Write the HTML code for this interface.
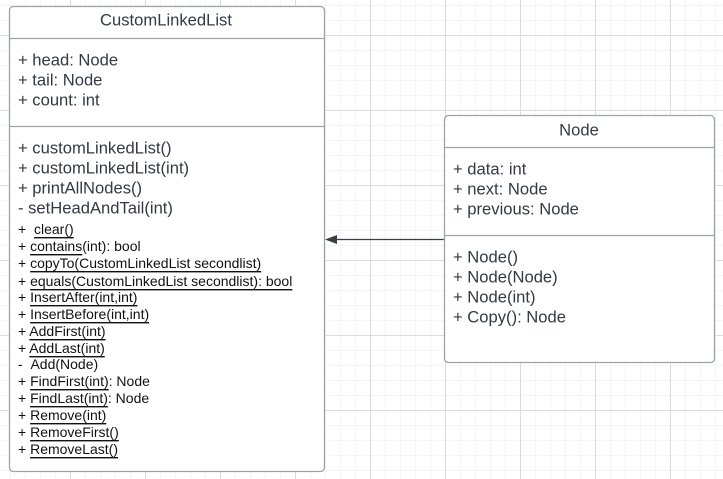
<!DOCTYPE html>
<html><head><meta charset="utf-8"><style>
html,body{margin:0;padding:0;background:#fff}
svg{display:block}
text{font-family:"Liberation Sans",Arial,sans-serif;fill:#333a44;dominant-baseline:central}
.b{font-size:16.6px}
.s{font-size:14px;fill:#111}
.u{text-decoration:underline}
</style></head><body>
<svg width="723" height="479" viewBox="0 0 723 479" xmlns="http://www.w3.org/2000/svg">
<defs>
<pattern id="g" width="15" height="15" patternUnits="userSpaceOnUse" x="10" y="5">
<path d="M0 0H15M0 0V15" stroke="#ebebeb" stroke-width="1" fill="none"/>
</pattern>
<pattern id="G" width="75" height="75" patternUnits="userSpaceOnUse" x="70" y="35">
<path d="M0 0.5H75M0.5 0V75" stroke="#dcdcdc" stroke-width="1" fill="none"/>
</pattern>
</defs>
<rect width="723" height="479" fill="url(#g)"/>
<rect width="723" height="479" fill="url(#G)"/>

<rect x="9.5" y="6.5" width="315" height="465" rx="4" fill="#fff" stroke="#9fa3a9" stroke-width="1.3"/>
<line x1="9.5" y1="38.5" x2="324.5" y2="38.5" stroke="#9fa3a9" stroke-width="1.3"/>
<line x1="9.5" y1="126.5" x2="324.5" y2="126.5" stroke="#9fa3a9" stroke-width="1.3"/>
<text class="b" x="166" y="20" text-anchor="middle">CustomLinkedList</text>
<text class="b" x="18" y="60">+ head: Node</text>
<text class="b" x="18" y="80">+ tail: Node</text>
<text class="b" x="18" y="100">+ count: int</text>
<text class="b" x="18" y="148">+ customLinkedList()</text>
<text class="b" x="18" y="168">+ customLinkedList(int)</text>
<text class="b" x="18" y="188">+ printAllNodes()</text>
<text class="b" x="18" y="208">- setHeadAndTail(int)</text>
<text class="s" x="18" y="229">+ &#160;<tspan class="u">clear()</tspan></text>
<text class="s" x="18" y="246">+ <tspan class="u">contains</tspan>(int): bool</text>
<text class="s" x="18" y="263">+ <tspan class="u">copyTo(CustomLinkedList secondlist)</tspan></text>
<text class="s" x="18" y="281">+ <tspan class="u">equals(CustomLinkedList secondlist): bool</tspan></text>
<text class="s" x="18" y="297">+ <tspan class="u">InsertAfter(int,int)</tspan></text>
<text class="s" x="18" y="314">+ <tspan class="u">InsertBefore(int,int)</tspan></text>
<text class="s" x="18" y="331">+ <tspan class="u">AddFirst(int)</tspan></text>
<text class="s" x="18" y="348">+ <tspan class="u">AddLast(int)</tspan></text>
<text class="s" x="18" y="364">- &#160;Add(Node)</text>
<text class="s" x="18" y="381">+ <tspan class="u">FindFirst(int)</tspan>: Node</text>
<text class="s" x="18" y="398">+ <tspan class="u">FindLast(int)</tspan>: Node</text>
<text class="s" x="18" y="415">+ <tspan class="u">Remove(int)</tspan></text>
<text class="s" x="18" y="432">+ <tspan class="u">RemoveFirst()</tspan></text>
<text class="s" x="18" y="449">+ <tspan class="u">RemoveLast()</tspan></text>

<line x1="337" y1="239.5" x2="444" y2="239.5" stroke="#3a3f47" stroke-width="1.2"/>
<polygon points="325,239.5 337,235 337,244" fill="#3a3f47"/>

<rect x="444.5" y="115.5" width="270" height="247" rx="4" fill="#fff" stroke="#9fa3a9" stroke-width="1.3"/>
<line x1="444.5" y1="147.5" x2="714.5" y2="147.5" stroke="#9fa3a9" stroke-width="1.3"/>
<line x1="444.5" y1="235.5" x2="714.5" y2="235.5" stroke="#9fa3a9" stroke-width="1.3"/>
<text class="b" x="579" y="130" text-anchor="middle">Node</text>
<text class="b" x="453" y="169">+ data: int</text>
<text class="b" x="453" y="189">+ next: Node</text>
<text class="b" x="453" y="209">+ previous: Node</text>
<text class="b" x="453" y="257">+ Node()</text>
<text class="b" x="453" y="277">+ Node(Node)</text>
<text class="b" x="453" y="297">+ Node(int)</text>
<text class="b" x="453" y="317">+ Copy(): Node</text>
</svg>
</body></html>
